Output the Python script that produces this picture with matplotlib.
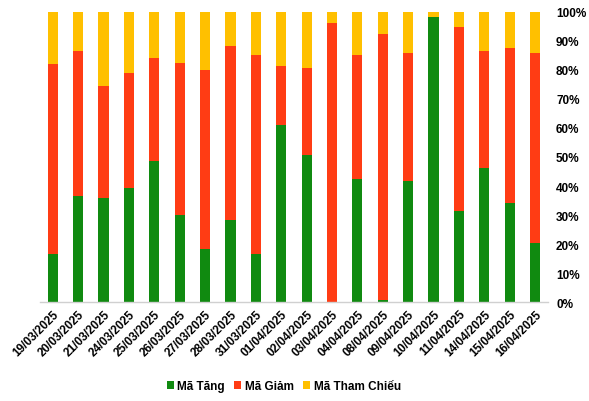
import matplotlib
matplotlib.use("Agg")
import matplotlib.pyplot as plt
import numpy as np
from matplotlib.ticker import PercentFormatter

plt.rcParams['font.family'] = ['Liberation Sans', 'DejaVu Sans']

dates = ["19/03/2025", "20/03/2025", "21/03/2025", "24/03/2025", "25/03/2025",
         "26/03/2025", "27/03/2025", "28/03/2025", "31/03/2025", "01/04/2025",
         "02/04/2025", "03/04/2025", "04/04/2025", "08/04/2025", "09/04/2025",
         "10/04/2025", "11/04/2025", "14/04/2025", "15/04/2025", "16/04/2025"]
ma_tang = [16.6, 36.6, 35.9, 39.3, 48.6, 30.0, 18.4, 28.3, 16.6, 61.0,
           50.8, 0.0, 42.4, 0.7, 41.7, 98.3, 31.4, 46.2, 34.1, 20.3]
ma_giam = [65.5, 50.0, 38.6, 39.7, 35.5, 52.4, 61.6, 60.0, 68.6, 20.4,
           29.9, 96.2, 42.8, 91.7, 44.2, 0.0, 63.4, 40.4, 53.5, 65.6]
ma_tham_chieu = [100 - a - b for a, b in zip(ma_tang, ma_giam)]

series_names = ["Mã Tăng", "Mã Giảm", "Mã Tham Chiếu"]
colors = ["#108A10", "#FF3C14", "#FFC000"]

fig = plt.figure(figsize=(5.89, 4.02), dpi=100)
ax = fig.add_axes([0.068, 0.246, 0.862, 0.722])

x = np.arange(len(dates))
w = 0.4
bottom = np.zeros(len(dates))
for name, vals, c in zip(series_names, [ma_tang, ma_giam, ma_tham_chieu], colors):
    v = np.array(vals)
    ax.bar(x, v, w, bottom=bottom, color=c, label=name, linewidth=0)
    bottom += v

ax.set_xlim(-0.5, len(dates) - 0.5)
ax.set_ylim(0, 100)
ax.yaxis.tick_right()
ax.set_yticks(np.arange(0, 101, 10))
ax.yaxis.set_major_formatter(PercentFormatter(decimals=0))
ax.tick_params(axis='y', length=0, labelsize=8.5, pad=6)
for t in ax.get_yticklabels():
    t.set_fontweight('bold')

ax.set_xticks(x)
ax.set_xticklabels(dates, rotation=45, ha='right', rotation_mode='anchor',
                   fontsize=8.5, fontweight='bold')
ax.tick_params(axis='x', length=0, pad=4)

for s in ['top', 'left', 'right']:
    ax.spines[s].set_visible(False)
ax.spines['bottom'].set_color('#D0D0D0')
ax.spines['bottom'].set_linewidth(1)

leg = fig.legend(loc='center', bbox_to_anchor=(0.482, 0.037), ncol=3, frameon=False,
                 prop={'weight': 'bold', 'size': 8.5}, handlelength=0.6,
                 handleheight=0.6, handletextpad=0.3, columnspacing=0.8)

fig.savefig("out.png", dpi=100)
